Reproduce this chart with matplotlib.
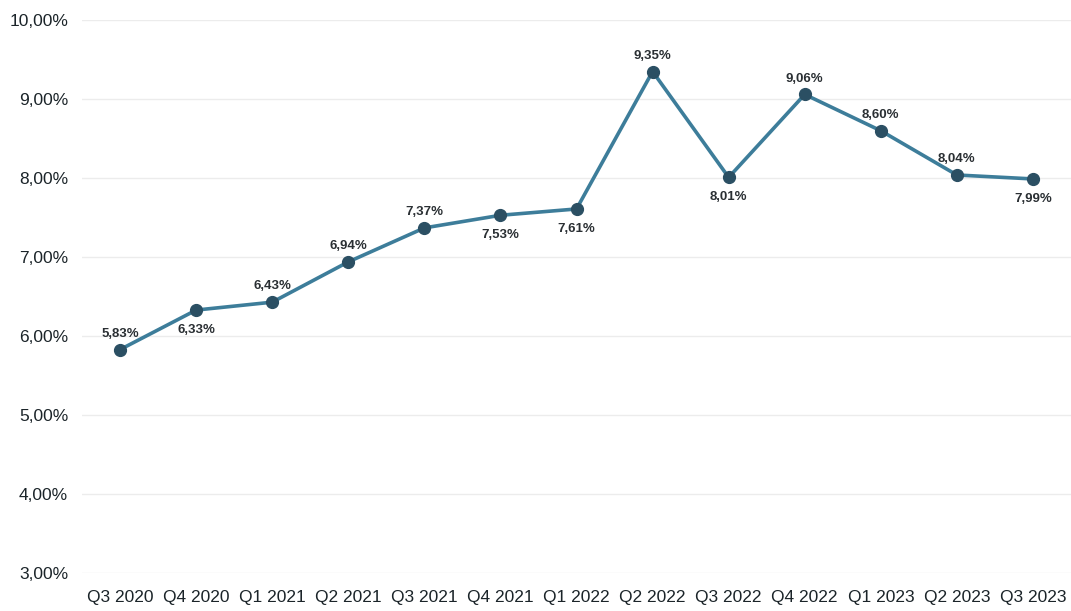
import matplotlib.pyplot as plt
from matplotlib.ticker import FuncFormatter

quarters = ["Q3 2020", "Q4 2020", "Q1 2021", "Q2 2021", "Q3 2021", "Q4 2021",
            "Q1 2022", "Q2 2022", "Q3 2022", "Q4 2022", "Q1 2023", "Q2 2023", "Q3 2023"]
rates = [5.83, 6.33, 6.43, 6.94, 7.37, 7.53, 7.61, 9.35, 8.01, 9.06, 8.60, 8.04, 7.99]
# label placement: 1 = above the point, -1 = below
label_side = [1, -1, 1, 1, 1, -1, -1, 1, -1, 1, 1, 1, -1]

plt.rcParams['font.family'] = ['Liberation Sans', 'DejaVu Sans']

fig = plt.figure(figsize=(10.71, 6.11), dpi=100)
ax = fig.add_axes([0.0766, 0.062, 0.9234, 0.905])

x = list(range(len(quarters)))
ax.plot(x, rates, color='#3d7d9a', lw=2.6, marker='o', ms=8.5,
        markerfacecolor='#2b4f63', markeredgecolor='#2b4f63', zorder=3)

for xi, v, s in zip(x, rates, label_side):
    lbl = f"{v:.2f}%".replace('.', ',')
    ax.annotate(lbl, (xi, v), xytext=(0, 7 if s > 0 else -10),
                textcoords='offset points', ha='center',
                va='bottom' if s > 0 else 'top',
                fontsize=9.5, fontweight='bold', color='#2a2f33')

ax.set_xlim(-0.5, len(quarters) - 0.5)
ax.set_ylim(3, 10)
ax.set_yticks(range(3, 11))
ax.yaxis.set_major_formatter(FuncFormatter(lambda v, p: f"{v:.2f}%".replace('.', ',')))
ax.set_xticks(x)
ax.set_xticklabels(quarters)

ax.grid(axis='y', color='#ececec', lw=1)
ax.set_axisbelow(True)
for sp in ax.spines.values():
    sp.set_visible(False)
ax.tick_params(axis='both', length=0, labelsize=12.5, labelcolor='#1b2429')
ax.tick_params(axis='y', pad=10)
ax.tick_params(axis='x', pad=12)

fig.savefig('out.png', dpi=100, facecolor='white')
